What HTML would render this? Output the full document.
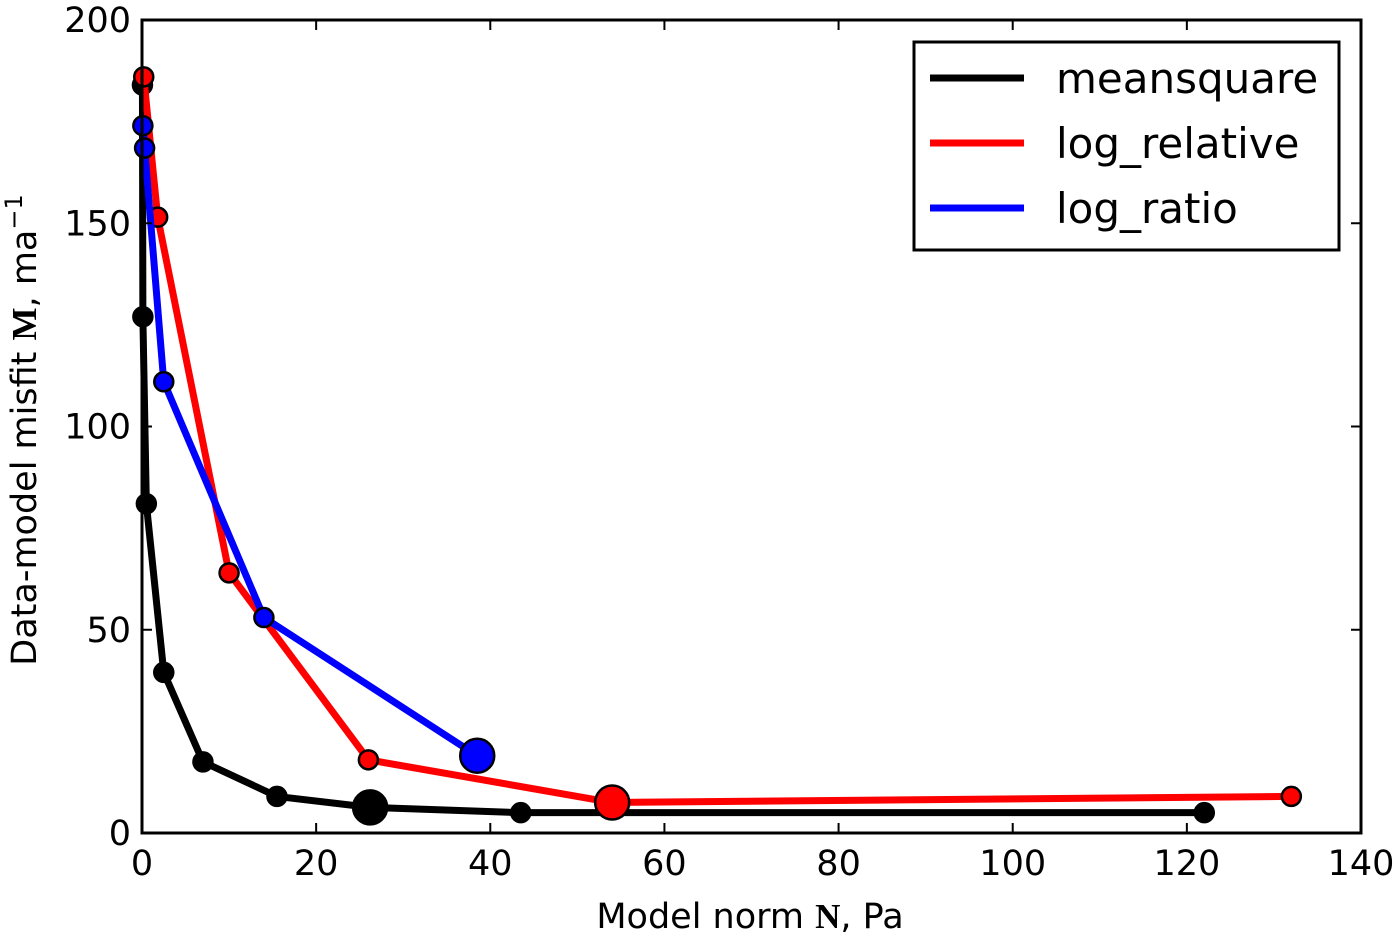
<!DOCTYPE html>
<html><head><meta charset="utf-8"><style>
body{margin:0;background:#fff;}
text{font-family:"DejaVu Sans","Liberation Sans",sans-serif;}
</style></head><body>
<svg id="chart" width="1400" height="938">
<g id="series"></g>
<rect x="142" y="20" width="1219" height="813" fill="none" stroke="#000" stroke-width="3"/>
<g id="axes"></g>
<text x="750" y="928" font-size="35" text-anchor="middle">Model norm <tspan font-family="Liberation Serif" font-weight="bold">N</tspan>, Pa</text>
<text transform="translate(36,430) rotate(-90)" font-size="35" text-anchor="middle">Data-model misfit <tspan font-family="Liberation Serif" font-weight="bold">M</tspan>, ma<tspan dy="-14" font-size="24">−1</tspan></text>
<g>
<rect x="914" y="42" width="425" height="208" fill="#fff" stroke="#000" stroke-width="3"/>
<line x1="930" y1="78" x2="1024" y2="78" stroke="#000" stroke-width="7"/>
<text x="1056" y="93" font-size="42">meansquare</text>
<line x1="930" y1="143" x2="1024" y2="143" stroke="#f00" stroke-width="7"/>
<text x="1056" y="158" font-size="42">log_relative</text>
<line x1="930" y1="208" x2="1024" y2="208" stroke="#00f" stroke-width="7"/>
<text x="1056" y="223" font-size="42">log_ratio</text>
</g>
</svg>
<script>
const xTicks=[0,20,40,60,80,100,120,140];
const yTicks=[0,50,100,150,200];
const msX=[0.05,0.1,0.5,2.5,7,15.5,26.2,43.5,122];
const msY=[184,127,81,39.5,17.5,9,6.3,5,5];
const msBig=6;
const lrX=[0.2,1.8,10,26,54,132];
const lrY=[186,151.5,64,18,7.5,9];
const lrBig=4;
const lbX=[0.1,0.3,2.5,14,38.5];
const lbY=[174,168.5,111,53,19];
const lbBig=4;
const X=v=>142+v*1219/140, Y=v=>833-v*813/200;
const NS='http://www.w3.org/2000/svg';
const ax=document.getElementById('axes'), sg=document.getElementById('series');
function mk(t,a,p){const e=document.createElementNS(NS,t);for(const k in a)e.setAttribute(k,a[k]);p.appendChild(e);return e;}
xTicks.forEach(v=>{
 mk('line',{x1:X(v),x2:X(v),y1:833,y2:823,stroke:'#000','stroke-width':2},ax);
 mk('line',{x1:X(v),x2:X(v),y1:20,y2:30,stroke:'#000','stroke-width':2},ax);
 const t=mk('text',{x:X(v),y:875,'font-size':35,'text-anchor':'middle'},ax);t.textContent=v;
 
 
});
yTicks.forEach(v=>{
 mk('line',{x1:142,x2:152,y1:Y(v),y2:Y(v),stroke:'#000','stroke-width':2},ax);
 mk('line',{x1:1361,x2:1351,y1:Y(v),y2:Y(v),stroke:'#000','stroke-width':2},ax);
 const t=mk('text',{x:131,y:Y(v)+12,'font-size':35,'text-anchor':'end'},ax);t.textContent=v;
 
 
});
function series(xs,ys,big,col,name){
 const g=mk('g',{},sg);
 
 
 const pl=mk('polyline',{points:xs.map((x,i)=>X(x)+','+Y(ys[i])).join(' '),fill:'none',stroke:col,'stroke-width':7,'stroke-linejoin':'round'},g);
 
 
 xs.forEach((x,i)=>{
  const c=mk('circle',{cx:X(x),cy:Y(ys[i]),r:i===big?17:9.5,fill:col,stroke:'#000','stroke-width':2.5},g);
  
  
 });
}
series(msX,msY,msBig,'#000','meansquare');
series(lrX,lrY,lrBig,'#f00','log-relative');
series(lbX,lbY,lbBig,'#00f','log-ratio');
</script>
</body></html>
